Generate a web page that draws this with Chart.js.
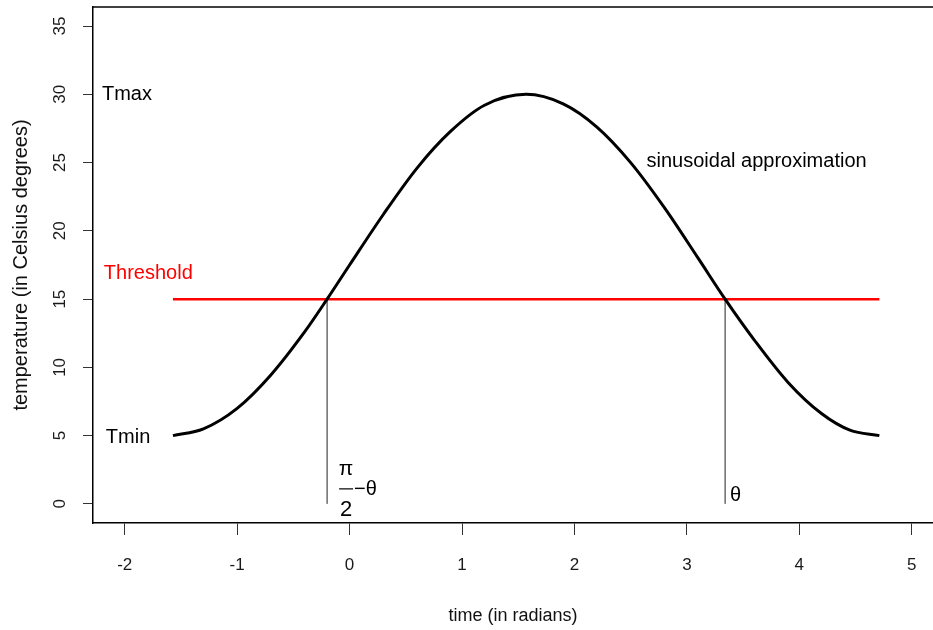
<!DOCTYPE html>
<html>
<head>
<meta charset="utf-8">
<script src="https://cdn.jsdelivr.net/npm/chart.js@4/dist/chart.umd.min.js"></script>
<style>
  html, body { margin: 0; padding: 0; background: #fff; }
  canvas { display: block; }
</style>
</head>
<body>
<canvas id="c" width="933" height="630"></canvas>
<script>
// ---- data ----
const timeValues = [-1.571, -1.3, -1.0, -0.7, -0.4, -0.2, 0.0, 0.3, 0.6, 0.9, 1.2, 1.571,
                    1.9, 2.2, 2.5, 2.8, 3.1, 3.34, 3.6, 3.9, 4.2, 4.45, 4.712];
const tempValues = [5.0, 5.5, 7.0, 9.45, 12.6, 15.0, 17.5, 21.2, 24.6, 27.3, 29.2, 30.0,
                    29.3, 27.6, 25.0, 21.7, 18.0, 15.0, 12.0, 8.9, 6.6, 5.4, 5.0];
const thresholdValue = 15;
const thresholdRange = [-1.571, 4.712];
const crossingTimes = [-0.2, 3.34];       // pi/2 - theta  and  theta
const xTickValues = [-2, -1, 0, 1, 2, 3, 4, 5];
const yTickValues = [0, 5, 10, 15, 20, 25, 30, 35];
const xTitle = 'time (in radians)';
const yTitle = 'temperature (in Celsius degrees)';
const labelTmax = 'Tmax';
const labelTmin = 'Tmin';
const labelThreshold = 'Threshold';
const labelCurve = 'sinusoidal approximation';

const FONT = "'Liberation Sans', Arial, Helvetica, sans-serif";
Chart.defaults.font.family = FONT;
Chart.defaults.color = '#000';

const curveData = timeValues.map((t, i) => ({ x: t, y: tempValues[i] }));
const thresholdData = thresholdRange.map(t => ({ x: t, y: thresholdValue }));
const dropDatasets = crossingTimes.map(t => ({
  data: [{ x: t, y: 0 }, { x: t, y: thresholdValue }],
  borderColor: '#222', borderWidth: 1, pointRadius: 0, tension: 0
}));

const annotations = {
  id: 'annotations',
  afterDatasetsDraw(chart) {
    const { ctx, chartArea, scales: { x, y } } = chart;
    ctx.save();
    // top border of the box
    ctx.strokeStyle = '#000';
    ctx.lineWidth = 1.5;
    ctx.beginPath();
    ctx.moveTo(chartArea.left, chartArea.top);
    ctx.lineTo(chartArea.right, chartArea.top);
    ctx.stroke();

    ctx.textAlign = 'center';
    ctx.textBaseline = 'middle';
    ctx.font = '20px ' + FONT;
    ctx.fillStyle = '#000';
    ctx.fillText(labelTmax, x.getPixelForValue(-1.98), y.getPixelForValue(30));
    ctx.fillText(labelTmin, x.getPixelForValue(-1.97), y.getPixelForValue(4.85));
    ctx.fillText(labelCurve, x.getPixelForValue(3.62), y.getPixelForValue(25.1));
    ctx.fillStyle = '#ff0000';
    ctx.fillText(labelThreshold, x.getPixelForValue(-1.79), y.getPixelForValue(16.9));

    // theta label at right crossing
    ctx.fillStyle = '#000';
    ctx.font = '20px ' + FONT;
    ctx.textAlign = 'left';
    ctx.fillText('\u03B8', x.getPixelForValue(crossingTimes[1]) + 5, y.getPixelForValue(0.65));

    // pi/2 - theta at left crossing
    const bx = x.getPixelForValue(crossingTimes[0]) + 19;
    const by = y.getPixelForValue(1.1);
    ctx.textAlign = 'center';
    ctx.font = '21px ' + FONT;
    ctx.fillText('\u03C0', bx, by - 20);
    ctx.font = '22px ' + FONT;
    ctx.fillText('2', bx, by + 21);
    ctx.strokeStyle = '#000';
    ctx.lineWidth = 1.2;
    ctx.beginPath();
    ctx.moveTo(bx - 7, by);
    ctx.lineTo(bx + 7, by);
    ctx.stroke();
    ctx.font = '20px ' + FONT;
    ctx.textAlign = 'left';
    ctx.fillText('\u2212\u03B8', bx + 8, by + 1);
    ctx.restore();
  }
};

new Chart(document.getElementById('c'), {
  type: 'line',
  data: {
    datasets: [
      { data: curveData, borderColor: '#000', borderWidth: 3, pointRadius: 0,
        cubicInterpolationMode: 'monotone' },
      { data: thresholdData, borderColor: '#ff0000', borderWidth: 2.5, pointRadius: 0 },
      ...dropDatasets
    ]
  },
  options: {
    responsive: false,
    animation: false,
    devicePixelRatio: 1,
    layout: { padding: { top: 7, right: 0, bottom: 0, left: 0 } },
    plugins: { legend: { display: false }, tooltip: { enabled: false } },
    scales: {
      x: {
        type: 'linear',
        min: -2.282, max: 5.189,
        afterBuildTicks: s => { s.ticks = xTickValues.map(v => ({ value: v })); },
        afterFit: s => { s.height = 107; s.paddingLeft = 0; s.paddingRight = 0; },
        grid: { drawOnChartArea: false, drawTicks: true, tickLength: 12, tickColor: '#333', tickWidth: 1 },
        border: { display: true, color: '#000', width: 1.5 },
        ticks: { font: { size: 17 }, color: '#1a1a1a', padding: 20, maxRotation: 0, autoSkip: false },
        title: { display: true, text: xTitle, font: { size: 18 }, color: '#111',
                 padding: { top: 0, bottom: 3 } }
      },
      y: {
        type: 'linear',
        min: -1.4, max: 36.4,
        afterBuildTicks: s => { s.ticks = yTickValues.map(v => ({ value: v })); },
        afterFit: s => { s.width = 93; s.paddingTop = 0; s.paddingBottom = 0; },
        grid: { drawOnChartArea: false, drawTicks: true, tickLength: 10, tickColor: '#333', tickWidth: 1 },
        border: { display: true, color: '#000', width: 1.5 },
        ticks: { font: { size: 17 }, color: '#1a1a1a', padding: 13, minRotation: 90, maxRotation: 90,
                 crossAlign: 'center', autoSkip: false },
        title: { display: true, text: yTitle, font: { size: 20 }, color: '#111',
                 padding: { top: 9, bottom: 0 } }
      }
    }
  },
  plugins: [annotations]
});
</script>
</body>
</html>
